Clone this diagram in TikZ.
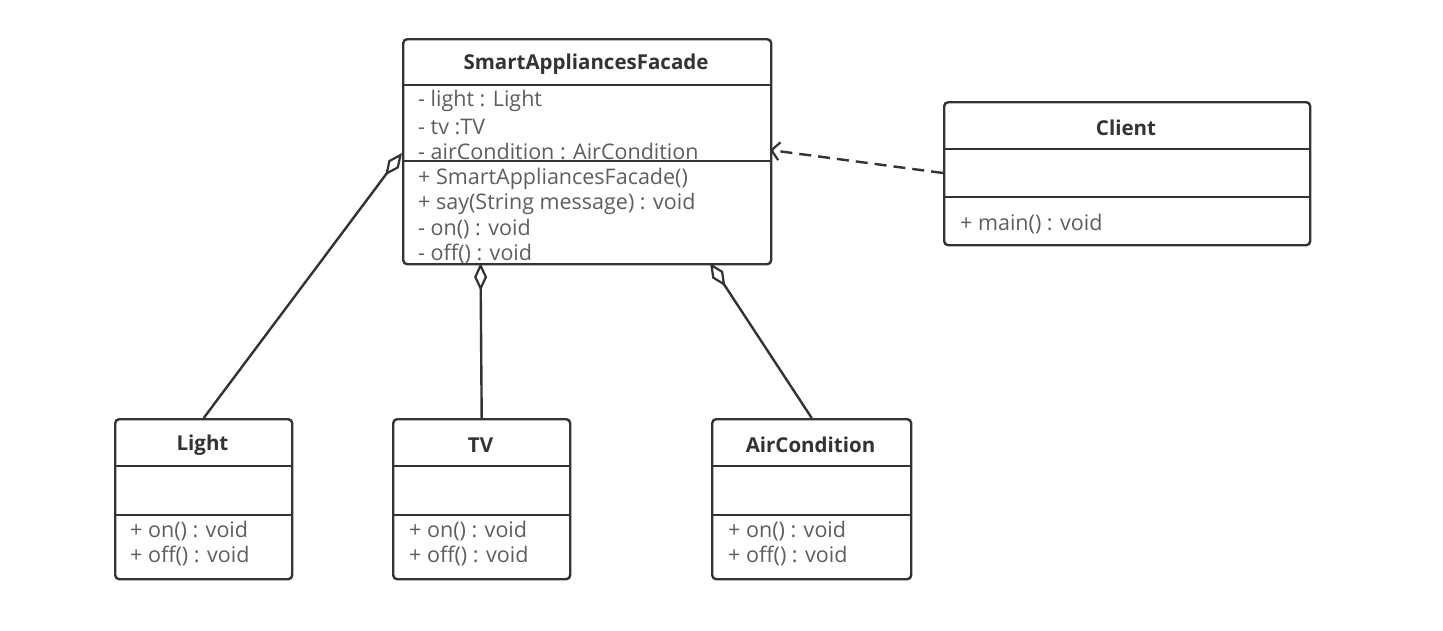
\documentclass[tikz,border=0pt]{standalone}
\usepackage{fontspec}
\setmainfont{Open Sans}
\usetikzlibrary{arrows.meta}
\definecolor{edge}{HTML}{333333}
\definecolor{member}{HTML}{5E5E5E}
\begin{document}
\begin{tikzpicture}[x=1pt,y=-1pt,
  classbox/.style={draw=edge,line width=2.4pt,rounded corners=4pt,fill=white,inner sep=0pt,anchor=north west},
  divider/.style={draw=edge,line width=2.4pt},
  title/.style={font=\fontsize{20.5}{24}\selectfont\bfseries,text=edge,inner sep=0pt},
  memb/.style={font=\fontsize{21.5}{25}\selectfont,text=member,inner sep=0pt,anchor=west},
  conn/.style={draw=edge,line width=2.4pt},
  agg/.style={conn,{Diamond[open,length=28pt,width=13pt,line width=2.2pt]}-},
  dep/.style={conn,dashed,dash pattern=on 12pt off 7pt,-{Straight Barb[length=8pt,width=18pt,line width=2.2pt]}}
]
\useasboundingbox[fill=white] (0,0) rectangle (1443,630);

% Facade
\node[title] (ftitle) at (586,64) {SmartAppliancesFacade};
\node[memb] (f1) at (418,101) {- light : Light};
\node[memb] (f2) at (418,126.5) {- tv :TV};
\node[memb] (f3) at (418,151.5) {- airCondition : AirCondition};
\node[memb] (f4) at (418,179) {+ SmartAppliancesFacade()};
\node[memb] (f5) at (418,204) {+ say(String message) : void};
\node[memb] (f6) at (418,229) {- on() : void};
\node[memb] (f7) at (418,254) {- off() : void};
\node[classbox,fill=none,minimum width=368pt,minimum height=225pt] (facade) at (402,38) {};
\draw[divider] (402,85) -- (770,85);
\draw[divider] (402,161) -- (770,161);

% Client
\node[classbox,minimum width=366pt,minimum height=143pt] (client) at (943,101) {};
\draw[divider] (943,149) -- (1309,149);
\draw[divider] (943,197) -- (1309,197);
\node[title] (ctitle) at (1126,128) {Client};
\node[memb] (c1) at (960,224) {+ main() : void};

% Light
\node[classbox,minimum width=177pt,minimum height=160pt] (light) at (114,418) {};
\draw[divider] (114,466) -- (291,466);
\draw[divider] (114,515) -- (291,515);
\node[title] (ltitle) at (202.5,445) {Light};
\node[memb] (l1) at (130,531) {+ on() : void};
\node[memb] (l2) at (130,556) {+ off() : void};

% TV
\node[classbox,minimum width=177pt,minimum height=160pt] (tv) at (392,418) {};
\draw[divider] (392,466) -- (569,466);
\draw[divider] (392,515) -- (569,515);
\node[title] (ttitle) at (480.5,445) {TV};
\node[memb] (t1) at (409,531) {+ on() : void};
\node[memb] (t2) at (409,556) {+ off() : void};

% AirCondition
\node[classbox,minimum width=199pt,minimum height=160pt] (ac) at (711,418) {};
\draw[divider] (711,466) -- (910,466);
\draw[divider] (711,515) -- (910,515);
\node[title] (atitle) at (810.5,445) {AirCondition};
\node[memb] (a1) at (728,531) {+ on() : void};
\node[memb] (a2) at (728,556) {+ off() : void};

% connectors
\coordinate (fl) at (402,153);
\coordinate (ft) at (480.5,263);
\coordinate (fa) at (710,263);
\coordinate (fc) at (770,150);
\coordinate (cl) at (943,173);
\draw[agg] (fl) -- (light.north);
\draw[agg] (ft) -- (tv.north);
\draw[agg] (fa) -- (ac.north);
\draw[dep] (cl) -- (fc);
\end{tikzpicture}
\end{document}
